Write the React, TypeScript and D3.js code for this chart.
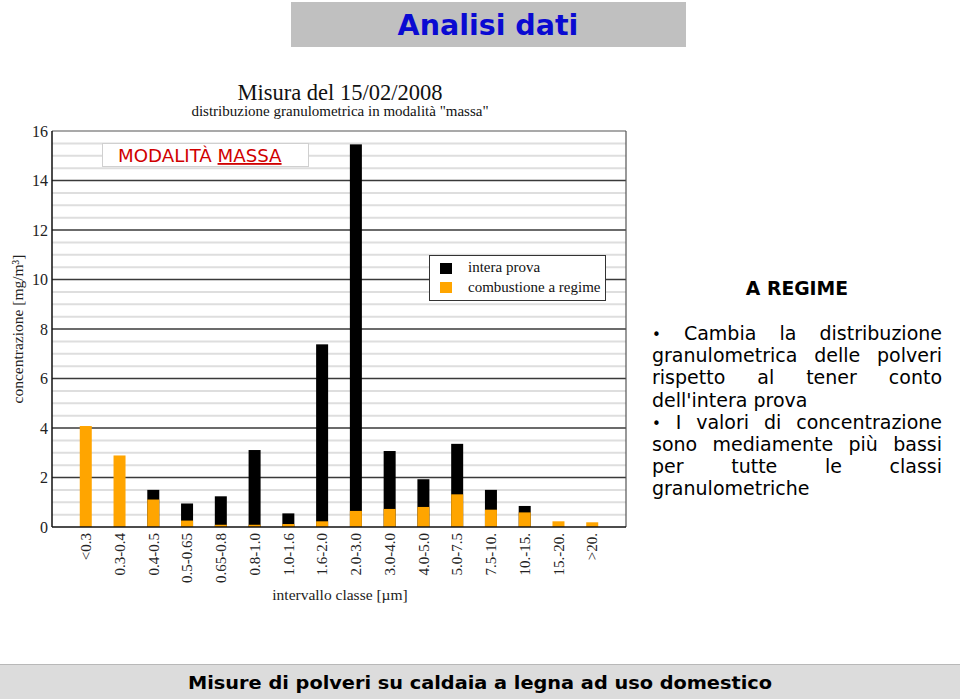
import React, { useEffect, useRef } from 'react';
import * as d3 from 'd3';

const categories = ["<0.3", "0.3-0.4", "0.4-0.5", "0.5-0.65", "0.65-0.8", "0.8-1.0", "1.0-1.6", "1.6-2.0", "2.0-3.0", "3.0-4.0", "4.0-5.0", "5.0-7.5", "7.5-10.", "10.-15.", "15.-20.", ">20."];
const interaProva = [0, 0, 1.50, 0.95, 1.24, 3.11, 0.55, 7.38, 15.46, 3.07, 1.93, 3.36, 1.50, 0.85, 0, 0];
const combustioneRegime = [4.08, 2.89, 1.11, 0.26, 0.09, 0.09, 0.12, 0.23, 0.65, 0.73, 0.81, 1.32, 0.70, 0.59, 0.23, 0.19];
const yTicks = [0, 2, 4, 6, 8, 10, 12, 14, 16];
const legendLabels = ["intera prova", "combustione a regime"];
const legendColors = ["#000000", "#FFA500"];
const bodyLines = [
  { text: "• Cambia la distribuzione", justify: true },
  { text: "granulometrica delle polveri", justify: true },
  { text: "rispetto al tener conto", justify: true },
  { text: "dell'intera prova", justify: false },
  { text: "• I valori di concentrazione", justify: true },
  { text: "sono mediamente più bassi", justify: true },
  { text: "per tutte le classi", justify: true },
  { text: "granulometriche", justify: false },
];

const SERIF = "'Liberation Serif', 'Times New Roman', serif";
const SANS = "'DejaVu Sans', sans-serif";

export default function App() {
  const ref = useRef<SVGSVGElement | null>(null);

  useEffect(() => {
    const svg = d3.select(ref.current);
    svg.selectAll('*').remove();

    // Header
    svg.append('rect').attr('x', 291).attr('y', 2).attr('width', 395).attr('height', 45).attr('fill', '#c0c0c0');
    svg.append('text').attr('x', 488).attr('y', 35).attr('text-anchor', 'middle')
      .attr('font-family', SANS).attr('font-weight', 'bold').attr('font-size', 28.5)
      .attr('fill', '#0a0ad2').text('Analisi dati');

    // Chart titles
    svg.append('text').attr('x', 340).attr('y', 100).attr('text-anchor', 'middle')
      .attr('font-family', SERIF).attr('font-size', 22.5).attr('fill', '#111').text('Misura del 15/02/2008');
    svg.append('text').attr('x', 340).attr('y', 116).attr('text-anchor', 'middle')
      .attr('font-family', SERIF).attr('font-size', 15).attr('fill', '#111')
      .text('distribuzione granulometrica in modalità "massa"');

    const left = 52, right = 626, top = 131, bottom = 527;
    const y = d3.scaleLinear().domain([0, 16]).range([bottom, top]);
    const x = d3.scalePoint<string>().domain(categories).range([left, right]).padding(1);

    // minor grid
    const minor = y.ticks(32).filter(t => !yTicks.includes(t));
    svg.append('g').selectAll('line').data(minor).join('line')
      .attr('x1', left).attr('x2', right).attr('y1', d => y(d)).attr('y2', d => y(d))
      .attr('stroke', '#dedede').attr('stroke-width', 2);
    // major grid
    svg.append('g').selectAll('line').data(yTicks.filter(t => t > 0 && t < 16)).join('line')
      .attr('x1', left).attr('x2', right).attr('y1', d => y(d)).attr('y2', d => y(d))
      .attr('stroke', '#3a3a3a').attr('stroke-width', 1.5);
    // frame
    svg.append('line').attr('x1', left).attr('x2', right).attr('y1', top).attr('y2', top).attr('stroke', '#555').attr('stroke-width', 1.2);
    svg.append('line').attr('x1', right).attr('x2', right).attr('y1', top).attr('y2', bottom).attr('stroke', '#555').attr('stroke-width', 1.2);

    // y tick labels
    svg.append('g').selectAll('text').data(yTicks).join('text')
      .attr('x', 48).attr('y', d => y(d)).attr('dy', '0.35em').attr('text-anchor', 'end')
      .attr('font-family', SERIF).attr('font-size', 16).attr('fill', '#222').text(d => String(d));

    // y title
    svg.append('text').attr('transform', 'translate(23,329) rotate(-90)').attr('text-anchor', 'middle')
      .attr('font-family', SERIF).attr('font-size', 15.5).attr('fill', '#222').text('concentrazione [mg/m³]');

    // bars
    const bw = 12;
    svg.append('g').selectAll('rect').data(categories).join('rect')
      .attr('x', (d) => (x(d) as number) - bw / 2).attr('width', bw)
      .attr('y', (d, i) => y(interaProva[i])).attr('height', (d, i) => y(0) - y(interaProva[i]))
      .attr('fill', legendColors[0]);
    svg.append('g').selectAll('rect').data(categories).join('rect')
      .attr('x', (d) => (x(d) as number) - bw / 2).attr('width', bw)
      .attr('y', (d, i) => y(combustioneRegime[i])).attr('height', (d, i) => y(0) - y(combustioneRegime[i]))
      .attr('fill', legendColors[1]);

    // axes lines
    svg.append('line').attr('x1', left).attr('x2', left).attr('y1', top).attr('y2', bottom).attr('stroke', '#111').attr('stroke-width', 1.5);
    svg.append('line').attr('x1', left).attr('x2', right).attr('y1', bottom).attr('y2', bottom).attr('stroke', '#111').attr('stroke-width', 1.5);

    // x labels
    svg.append('g').selectAll('text').data(categories).join('text')
      .attr('transform', d => `translate(${x(d)},533) rotate(-90)`).attr('dy', '0.35em').attr('text-anchor', 'end')
      .attr('font-family', SERIF).attr('font-size', 15).attr('fill', '#222').text(d => d);

    svg.append('text').attr('x', 340).attr('y', 600).attr('text-anchor', 'middle')
      .attr('font-family', SERIF).attr('font-size', 15.5).attr('fill', '#222').text('intervallo classe [µm]');

    // legend
    const lg = svg.append('g');
    lg.append('rect').attr('x', 429.5).attr('y', 255.5).attr('width', 176).attr('height', 45).attr('fill', '#fff').attr('stroke', '#333').attr('stroke-width', 1);
    legendLabels.forEach((lab, i) => {
      lg.append('rect').attr('x', 440).attr('y', 263 + i * 19).attr('width', 12).attr('height', 11).attr('fill', legendColors[i]);
      lg.append('text').attr('x', 468).attr('y', 272 + i * 19.5).attr('font-family', SERIF).attr('font-size', 15).attr('fill', '#111').text(lab);
    });

    // MODALITÀ MASSA box
    svg.append('rect').attr('x', 102.5).attr('y', 143.5).attr('width', 206).attr('height', 23).attr('fill', '#fff').attr('stroke', '#d0d0d0');
    const mt = svg.append('text').attr('x', 118).attr('y', 162).attr('font-family', SANS).attr('font-size', 18.2).attr('fill', '#d00000');
    mt.append('tspan').text('MODALITÀ ');
    mt.append('tspan').attr('text-decoration', 'underline').text('MASSA');

    // right text
    svg.append('text').attr('x', 797).attr('y', 295).attr('text-anchor', 'middle')
      .attr('font-family', SANS).attr('font-weight', 'bold').attr('font-size', 18.8).attr('fill', '#000').text('A REGIME');

    const tl = 652, tr = 942;
    bodyLines.forEach((ln, i) => {
      const by = 340 + i * 22.2;
      if (!ln.justify) {
        svg.append('text').attr('x', tl).attr('y', by).attr('font-family', SANS).attr('font-size', 19).attr('fill', '#000').text(ln.text);
        return;
      }
      const words = ln.text.split(' ');
      const nodes = words.map(w => svg.append('text').attr('y', by).attr('font-family', SANS).attr('font-size', w === '•' ? 15 : 19).attr('fill', '#000').text(w));
      const widths = nodes.map(n => (n.node() as SVGTextElement).getComputedTextLength());
      const gap = (tr - tl - d3.sum(widths)) / (words.length - 1);
      let cx = tl;
      nodes.forEach((n, j) => { n.attr('x', cx); cx += widths[j] + gap; });
    });

    // footer
    svg.append('rect').attr('x', 0).attr('y', 664).attr('width', 960).attr('height', 35).attr('fill', '#dcdcdc');
    svg.append('line').attr('x1', 0).attr('x2', 960).attr('y1', 664.5).attr('y2', 664.5).attr('stroke', '#b8b8b8');
    svg.append('text').attr('x', 188).attr('y', 689).attr('textLength', 584).attr('lengthAdjust', 'spacingAndGlyphs')
      .attr('font-family', SANS).attr('font-weight', 'bold').attr('font-size', 18.5)
      .attr('fill', '#000').text('Misure di polveri su caldaia a legna ad uso domestico');
  }, []);

  return (
    <svg ref={ref} width={960} height={699} style={{ position: 'absolute', left: 0, top: 0, display: 'block', background: '#fff' }} />
  );
}
